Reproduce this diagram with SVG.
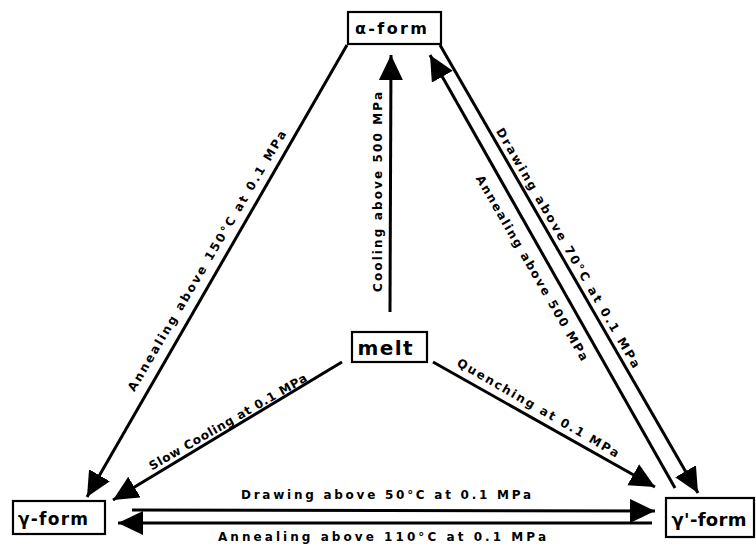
<svg xmlns="http://www.w3.org/2000/svg" width="756" height="548" viewBox="0 0 756 548">
<defs>
<marker id="ah" markerUnits="userSpaceOnUse" markerWidth="28" markerHeight="26" refX="25" refY="12" orient="auto">
<path d="M0,0 L25,12 L0,24 Z" fill="#000"/>
</marker>
<style>
.box{fill:#fff;stroke:#000;stroke-width:2.2}
.nt{font-family:"DejaVu Sans","Liberation Sans",sans-serif;font-weight:bold;fill:#000;text-anchor:middle}
.ln{stroke:#000;stroke-width:3;fill:none}
.lab{font-family:"DejaVu Sans","Liberation Sans",sans-serif;font-weight:bold;font-size:12px;fill:#000;text-anchor:middle;dominant-baseline:central}
</style>
</defs>
<rect width="756" height="548" fill="#fff"/>
<g id="connectors">
<line class="ln" x1="347" y1="45" x2="87" y2="497" marker-end="url(#ah)"/>
<line class="ln" x1="390" y1="312" x2="391" y2="55" marker-end="url(#ah)"/>
<line class="ln" x1="675" y1="488" x2="430" y2="55" marker-end="url(#ah)"/>
<line class="ln" x1="440" y1="45" x2="698" y2="493" marker-end="url(#ah)"/>
<line class="ln" x1="433" y1="362" x2="655" y2="487" marker-end="url(#ah)"/>
<line class="ln" x1="342" y1="362" x2="113" y2="500" marker-end="url(#ah)"/>
<line class="ln" x1="132" y1="510" x2="655" y2="511" marker-end="url(#ah)"/>
<line class="ln" x1="652" y1="523" x2="118" y2="523" marker-end="url(#ah)"/>
<text class="lab" transform="translate(378,192) rotate(-90)" textLength="200" lengthAdjust="spacing">Cooling above 500 MPa</text>
<text class="lab" transform="translate(207,261) rotate(-59.5)" textLength="300" lengthAdjust="spacing">Annealing above 150°C at 0.1 MPa</text>
<text class="lab" transform="translate(228,422) rotate(-30)" textLength="180" lengthAdjust="spacing">Slow Cooling at 0.1 MPa</text>
<text class="lab" transform="translate(538,408) rotate(30)" textLength="185" lengthAdjust="spacing">Quenching at 0.1 MPa</text>
<text class="lab" transform="translate(568,248) rotate(60)" textLength="275" lengthAdjust="spacing">Drawing above 70°C at 0.1 MPa</text>
<text class="lab" transform="translate(532,268) rotate(60)" textLength="212" lengthAdjust="spacing">Annealing above 500 MPa</text>
<text class="lab" x="386" y="495" textLength="290" lengthAdjust="spacing">Drawing above 50°C at 0.1 MPa</text>
<text class="lab" x="382" y="537" textLength="328" lengthAdjust="spacing">Annealing above 110°C at 0.1 MPa</text>
</g>
<g id="alpha">
<rect class="box" x="348" y="12" width="93" height="32"/>
<text class="nt" x="391" y="34" font-size="16" textLength="72" lengthAdjust="spacing">α-form</text>
</g>
<g id="melt">
<rect class="box" x="352" y="332" width="75" height="30"/>
<text class="nt" x="385" y="355" font-size="20" textLength="55" lengthAdjust="spacing">melt</text>
</g>
<g id="gamma">
<rect class="box" x="13" y="501" width="92" height="33"/>
<text class="nt" x="53" y="525" font-size="17" textLength="70" lengthAdjust="spacing">γ-form</text>
</g>
<g id="gammaprime">
<rect class="box" x="666" y="498" width="88" height="39"/>
<text class="nt" x="709" y="526" font-size="18" textLength="75" lengthAdjust="spacing">γ'-form</text>
</g>
</svg>
